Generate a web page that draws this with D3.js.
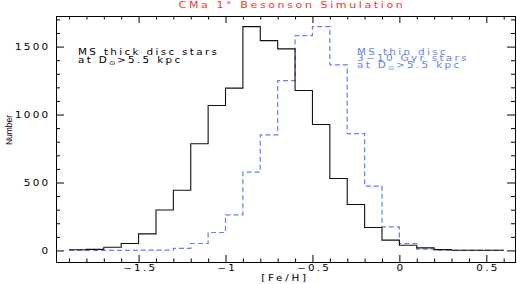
<!DOCTYPE html>
<html>
<head>
<meta charset="utf-8">
<script src="https://cdn.jsdelivr.net/npm/d3@7"></script>
<style>
  body { margin: 0; background: #fff; }
  svg { display: block; }
  text { font-family: "DejaVu Sans", sans-serif; }
</style>
</head>
<body>
<div id="chart"></div>
<script>
// Data: histogram of [Fe/H], lower bin edges (bin width 0.1)
var feH = [-1.9, -1.8, -1.7, -1.6, -1.5, -1.4, -1.3, -1.2, -1.1, -1.0,
           -0.9, -0.8, -0.7, -0.6, -0.5, -0.4, -0.3, -0.2, -0.1, 0.0,
           0.1, 0.2, 0.3, 0.4, 0.5];
var binWidth = 0.1;
// MS thick disc stars
var thickDisc = [5, 8, 24, 51, 122, 298, 443, 785, 1067, 1194,
                 1647, 1544, 1483, 1177, 927, 529, 338, 169, 76, 38,
                 19, 6, 2, 1, 1];
// MS thin disc, 3-10 Gyr stars
var thinDisc = [0, 0, 0, 1, 2, 3, 15, 51, 132, 262,
                577, 851, 1250, 1580, 1647, 1365, 859, 474, 173, 51,
                10, 2, 1, 0, 0];
var xMajorTicks = [-1.5, -1, -0.5, 0, 0.5];
var yMajorTicks = [0, 500, 1000, 1500];

var width = 517, height = 284;
var frame = { left: 56, right: 515, top: 16, bottom: 262 };
// horizontal stretch to mimic the wide plotting font
var S = 1.3;

var svg = d3.select("#chart").append("svg")
    .attr("width", width)
    .attr("height", height);

// Scales
var x = d3.scaleLinear().domain([-1.975, 0.665]).range([frame.left, frame.right]);
var y = d3.scaleLinear().domain([-85, 1725]).range([frame.bottom, frame.top]);

// minor tick values
var xMinor = d3.range(-19, 7).map(function(d) { return d / 10; })
    .filter(function(d) { return xMajorTicks.indexOf(d) < 0; });
var yMinor = d3.range(0, 18).map(function(d) { return d * 100; })
    .filter(function(d) { return yMajorTicks.indexOf(d) < 0; });

var tickStyle = function(g) {
    g.select(".domain").remove();
    g.selectAll("line").attr("stroke", "#000");
    g.selectAll("text")
        .style("font-size", "8px")
        .style("letter-spacing", "1.7px")
        .attr("fill", "#000");
};

// Bottom axis
var bottomLabels = svg.append("g")
    .attr("transform", "translate(0," + frame.bottom + ")")
    .call(d3.axisBottom(x).tickValues(xMajorTicks).tickSize(-7).tickPadding(3)
        .tickFormat(function(d) { return d3.format("")(d).replace("-", "\u2212"); }))
    .call(tickStyle);
bottomLabels.selectAll("text")
    .attr("dx", "0.85px")
    .attr("transform", "scale(" + S + ",1)");
svg.append("g")
    .attr("transform", "translate(0," + frame.bottom + ")")
    .call(d3.axisBottom(x).tickValues(xMinor).tickSize(-3.5).tickFormat(""))
    .call(tickStyle);
// Top axis
svg.append("g")
    .attr("transform", "translate(0," + frame.top + ")")
    .call(d3.axisTop(x).tickValues(xMajorTicks).tickSize(-7).tickFormat(""))
    .call(tickStyle);
svg.append("g")
    .attr("transform", "translate(0," + frame.top + ")")
    .call(d3.axisTop(x).tickValues(xMinor).tickSize(-3.5).tickFormat(""))
    .call(tickStyle);
// Left axis
var leftLabels = svg.append("g")
    .attr("transform", "translate(" + frame.left + ",0)")
    .call(d3.axisLeft(y).tickValues(yMajorTicks).tickSize(-8).tickPadding(4.4)
        .tickFormat(d3.format("d")))
    .call(tickStyle);
leftLabels.selectAll("text").attr("transform", "scale(" + S + ",1)");
svg.append("g")
    .attr("transform", "translate(" + frame.left + ",0)")
    .call(d3.axisLeft(y).tickValues(yMinor).tickSize(-4).tickFormat(""))
    .call(tickStyle);
// Right axis
svg.append("g")
    .attr("transform", "translate(" + frame.right + ",0)")
    .call(d3.axisRight(y).tickValues(yMajorTicks).tickSize(-8).tickFormat(""))
    .call(tickStyle);
svg.append("g")
    .attr("transform", "translate(" + frame.right + ",0)")
    .call(d3.axisRight(y).tickValues(yMinor).tickSize(-4).tickFormat(""))
    .call(tickStyle);

// Frame
svg.append("rect")
    .attr("x", frame.left + 0.5)
    .attr("y", frame.top + 0.5)
    .attr("width", frame.right - frame.left)
    .attr("height", frame.bottom - frame.top)
    .attr("fill", "none")
    .attr("stroke", "#000")
    .attr("stroke-width", 1);

// Histogram step lines
var stepLine = d3.line()
    .x(function(d) { return x(d.x); })
    .y(function(d) { return y(d.y); })
    .curve(d3.curveStepAfter);
var toSteps = function(values) {
    var pts = feH.map(function(e, i) { return { x: e, y: values[i] }; });
    pts.push({ x: feH[feH.length - 1] + binWidth, y: values[values.length - 1] });
    return pts;
};
svg.append("path")
    .attr("d", stepLine(toSteps(thinDisc)))
    .attr("fill", "none")
    .attr("stroke", "#6480ee")
    .attr("stroke-width", 1.2)
    .attr("stroke-dasharray", "5,3");
svg.append("path")
    .attr("d", stepLine(toSteps(thickDisc)))
    .attr("fill", "none")
    .attr("stroke", "#111")
    .attr("stroke-width", 1.1);

// Stretched text helper
var wideText = function(x0, y0, str, color, size, spacing, anchor) {
    return svg.append("text")
        .attr("transform", "translate(" + x0 + "," + y0 + ") scale(" + S + ",1)")
        .attr("text-anchor", anchor || "start")
        .attr("fill", color)
        .style("font-size", size + "px")
        .style("letter-spacing", spacing + "px")
        .text(str);
};

// Title
wideText(292, 7.5, "CMa 1\u00b0 Besonson Simulation", "#e33b2e", 8.5, 2.0, "middle");

// Axis titles
wideText(285, 281, "[Fe/H]", "#000", 8, 2.1, "middle");
svg.append("text")
    .attr("transform", "translate(12,130) rotate(-90)")
    .attr("text-anchor", "middle")
    .style("font-family", "'Liberation Sans', sans-serif")
    .style("font-size", "8.5px")
    .text("Number");

// Annotations
var addLabel = function(x0, y0, lines, color, lead) {
    lines.forEach(function(line, i) {
        var t = wideText(x0, y0 + i * lead, null, color, 8, 1.8);
        if (line.indexOf("D_sun") >= 0) {
            var parts = line.split("D_sun");
            t.append("tspan").text(parts[0] + "D");
            t.append("tspan").attr("dy", 2).style("font-size", "6px")
                .style("letter-spacing", "1px").text("\u2299");
            t.append("tspan").attr("dy", -2).text(parts[1]);
        } else {
            t.text(line);
        }
    });
};
addLabel(78, 55, ["MS thick disc stars", "at D_sun>5.5 kpc"], "#000", 7.7);
addLabel(357, 55, ["MS thin disc", "3\u221210 Gyr stars", "at D_sun>5.5 kpc"], "#6480ee", 6.4);
</script>
</body>
</html>
